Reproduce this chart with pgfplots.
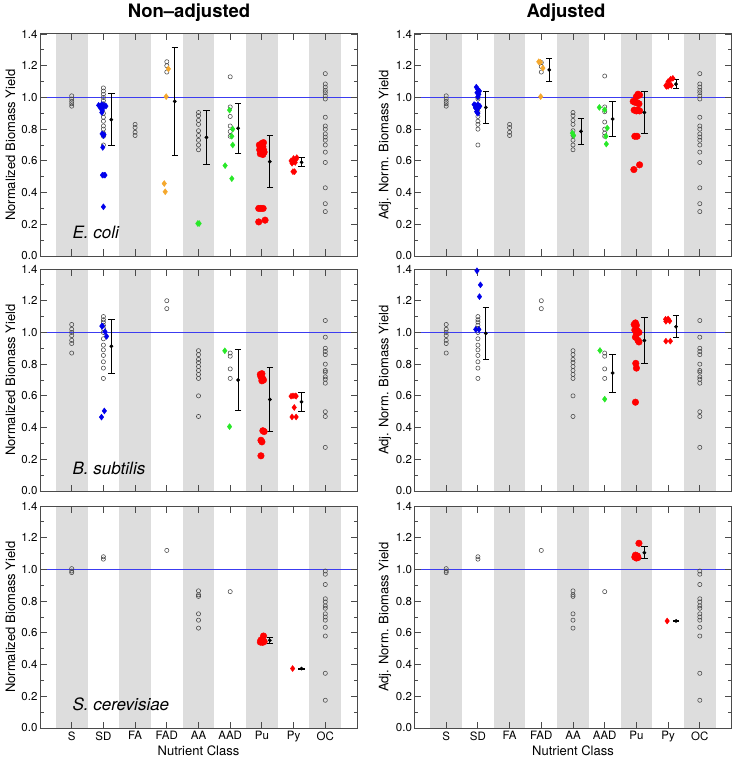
\documentclass[border=0pt]{standalone}
\usepackage{fontspec}
\setmainfont{TeX Gyre Heros}
\usepackage{pgfplots}
\pgfplotsset{compat=1.18}
\definecolor{band}{RGB}{221,221,221}
\definecolor{frame}{RGB}{75,75,75}
\definecolor{cblue}{RGB}{0,0,235}
\definecolor{corange}{RGB}{245,168,45}
\definecolor{cgreen}{RGB}{40,232,40}
\definecolor{cred}{RGB}{255,0,0}
\definecolor{hline}{RGB}{60,60,240}
\definecolor{circ}{RGB}{70,70,70}

\pgfplotsset{
  panel/.style={
    scale only axis, width=317pt, height=222pt,
    xmin=0, xmax=10, ymin=0, ymax=1.4,
    axis on top,
    xtick={1,2,3,4,5,6,7,8,9},
    ytick={0,0.2,0.4,0.6,0.8,1.0,1.2,1.4},
    minor ytick={0.1,0.3,0.5,0.7,0.9,1.1,1.3},
    tick align=inside,
    major tick length=6.5pt, minor tick length=3.5pt,
    every tick/.style={frame, line width=0.9pt},
    axis line style={frame, line width=1pt},
    tick label style={font=\fontsize{11.5}{13}\selectfont},
    label style={font=\fontsize{13}{15}\selectfont},
    /pgf/number format/assume math mode=true,
    yticklabel style={xshift=1pt, /pgf/number format/fixed, /pgf/number format/fixed zerofill, /pgf/number format/precision=1},
    ylabel style={at={(axis description cs:-0.093,0.5)}, anchor=center},
    xlabel style={at={(axis description cs:0.5,0)}, anchor=base, yshift=-27pt},
    xticklabels={},
  },
  bottomrow/.style={xticklabels={S,SD,FA,FAD,AA,AAD,Pu,Py,OC}, xlabel={Nutrient Class}},
  opencirc/.style={only marks, mark=o, mark size=2.1pt, draw=circ, mark options={draw=circ, line width=0.55pt}},
  dia/.style={only marks, mark=diamond*, mark size=3pt, #1, mark options={fill=#1, draw=#1}},
  dot/.style={only marks, mark=*, mark size=3.3pt, #1, mark options={fill=#1, draw=#1}},
  meanbar/.style={only marks, mark=*, mark size=1.7pt, black,
    error bars/.cd, y dir=both, y explicit,
    error bar style={black, line width=0.8pt},
    error mark options={rotate=90, mark size=3.2pt, line width=0.8pt, black}},
}

\newcommand{\bands}{%
  \fill[band] (axis cs:0.5,0) rectangle (axis cs:1.5,1.4);
  \fill[band] (axis cs:2.5,0) rectangle (axis cs:3.5,1.4);
  \fill[band] (axis cs:4.5,0) rectangle (axis cs:5.5,1.4);
  \fill[band] (axis cs:6.5,0) rectangle (axis cs:7.5,1.4);
  \fill[band] (axis cs:8.5,0) rectangle (axis cs:9.5,1.4);
  \fill[hline] (axis cs:0,0.9955) rectangle (axis cs:10,1.0045);
}
\newcommand{\species}[2]{\node[anchor=base west, inner sep=0pt, font=\fontsize{17}{20}\selectfont\itshape] at (axis cs:1.02,#1) {#2};}

\begin{document}
\begin{tikzpicture}
\useasboundingbox (0,0) rectangle (738pt,-762pt);
\node[font=\fontsize{18.5}{21}\selectfont\bfseries] at (189pt,-13pt) {Non\textendash adjusted};
\node[font=\fontsize{18.5}{21}\selectfont\bfseries] at (566pt,-13pt) {Adjusted};

% ===== Row 1 left: E. coli, non-adjusted
\begin{axis}[panel, at={(40pt,-34pt)}, anchor=north west, ylabel={Normalized Biomass Yield}]
\bands
\addplot[opencirc] coordinates {
(1,1.01)(1,0.99)(1,0.975)(1,0.96)(1,0.945)
(2,1.06)(2,1.04)(2,1.02)(2,1.0)(2,0.98)(2,0.96)(2,0.90)(2,0.875)(2,0.85)(2,0.82)(2,0.80)(2,0.775)(2,0.755)(2,0.70)
(3,0.83)(3,0.81)(3,0.78)(3,0.76)
(4,1.225)(4,1.20)(4,1.16)
(5,0.905)(5,0.885)(5,0.855)(5,0.83)(5,0.79)(5,0.76)(5,0.73)(5,0.70)(5,0.67)
(6,1.13)(6,0.94)(6,0.88)(6,0.82)(6,0.785)(6,0.755)
(9,1.15)(9,1.085)(9,1.065)(9,1.045)(9,1.03)(9,1.01)(9,0.99)(9,0.875)(9,0.82)(9,0.80)(9,0.77)(9,0.75)(9,0.73)(9,0.70)(9,0.655)(9,0.59)(9,0.43)(9,0.33)(9,0.28)
};
\addplot[dia=cblue] coordinates {(1.85,0.95)(1.9,0.945)(1.95,0.955)(2.02,0.95)(2.08,0.945)(1.92,0.93)(1.97,0.92)(1.95,0.905)(2.0,0.94)(1.96,0.77)(2.0,0.76)(2.02,0.765)(1.98,0.685)(1.97,0.51)(2.02,0.51)(2.05,0.51)(2.0,0.31)};
\addplot[dia=corange] coordinates {(4.05,1.18)(3.98,1.005)(3.92,0.457)(3.95,0.405)};
\addplot[dia=cgreen] coordinates {(4.98,0.205)(5.02,0.205)(5.98,0.92)(6.08,0.80)(6.05,0.755)(6.08,0.70)(5.84,0.57)(6.05,0.488)};
\addplot[dot=cred] coordinates {(6.92,0.70)(7.0,0.71)(7.05,0.715)(6.95,0.685)(7.03,0.69)(6.93,0.67)(7.0,0.665)(7.05,0.67)(6.95,0.645)(7.03,0.64)(7.07,0.655)(6.9,0.30)(6.97,0.30)(7.04,0.30)(7.1,0.226)(6.9,0.215)};
\addplot[dia=cred] coordinates {(7.92,0.60)(7.98,0.595)(8.03,0.605)(8.08,0.61)(7.95,0.585)(8.05,0.59)(8.1,0.62)(8.0,0.615)(7.98,0.532)(8.03,0.532)};
\addplot[meanbar] coordinates {(2.25,0.86) +- (0,0.163) (4.25,0.975) +- (0,0.34) (5.25,0.748) +- (0,0.171) (6.25,0.805) +- (0,0.158) (7.25,0.595) +- (0,0.164) (8.25,0.591) +- (0,0.028)};
\species{0.11}{E. coli}
\end{axis}

% ===== Row 1 right: E. coli, adjusted
\begin{axis}[panel, at={(414.5pt,-34pt)}, anchor=north west, ylabel={Adj. Norm. Biomass Yield}]
\bands
\addplot[opencirc] coordinates {
(1,1.01)(1,0.99)(1,0.975)(1,0.96)(1,0.945)
(2,1.0)(2,0.99)(2,0.94)(2,0.91)(2,0.88)(2,0.85)(2,0.83)(2,0.80)(2,0.70)
(3,0.83)(3,0.81)(3,0.78)(3,0.76)
(4,1.22)(4,1.195)(4,1.16)
(5,0.905)(5,0.885)(5,0.855)(5,0.83)(5,0.79)(5,0.76)(5,0.73)(5,0.70)(5,0.67)
(6,1.135)(6,0.94)(6,0.91)(6,0.845)(6,0.80)(6,0.775)(6,0.755)
(9,1.15)(9,1.085)(9,1.065)(9,1.045)(9,1.03)(9,1.01)(9,0.99)(9,0.875)(9,0.82)(9,0.80)(9,0.77)(9,0.75)(9,0.73)(9,0.70)(9,0.655)(9,0.59)(9,0.43)(9,0.33)(9,0.28)
};
\addplot[dia=cblue] coordinates {(1.95,1.065)(2.0,1.05)(2.05,1.04)(1.97,1.03)(2.03,1.02)(2.0,1.005)(1.88,0.955)(1.93,0.95)(2.0,0.955)(2.06,0.945)(1.92,0.935)(1.97,0.925)(2.02,0.935)(1.96,0.91)(2.0,0.9)};
\addplot[dia=corange] coordinates {(3.92,1.225)(3.97,1.222)(4.05,1.185)(3.98,1.005)};
\addplot[dia=cgreen] coordinates {(4.98,0.775)(5.02,0.76)(5.83,0.937)(6.0,0.922)(6.08,0.807)(6.04,0.755)(6.05,0.706)};
\addplot[dot=cred] coordinates {(7.05,1.02)(7.1,1.015)(7.0,1.005)(6.9,0.975)(6.95,0.97)(7.03,0.965)(7.08,0.96)(6.93,0.92)(7.0,0.915)(7.05,0.92)(7.1,0.915)(6.95,0.755)(7.02,0.755)(6.92,0.545)(7.1,0.575)};
\addplot[dia=cred] coordinates {(7.93,1.075)(8.0,1.07)(8.05,1.08)(8.1,1.075)(8.0,1.10)(8.08,1.115)(8.15,1.12)(7.95,1.07)};
\addplot[meanbar] coordinates {(2.25,0.937) +- (0,0.1) (4.25,1.174) +- (0,0.073) (5.25,0.786) +- (0,0.084) (6.25,0.864) +- (0,0.11) (7.25,0.905) +- (0,0.133) (8.25,1.084) +- (0,0.027)};
\end{axis}

% ===== Row 2 left: B. subtilis, non-adjusted
\begin{axis}[panel, at={(40pt,-269pt)}, anchor=north west, ylabel={Normalized Biomass Yield}]
\bands
\addplot[opencirc] coordinates {
(1,1.05)(1,1.02)(1,1.0)(1,0.98)(1,0.95)(1,0.93)(1,0.87)
(2,1.10)(2,1.08)(2,1.065)(2,1.045)(2,1.025)(2,1.0)(2,0.96)(2,0.92)(2,0.89)(2,0.855)(2,0.815)(2,0.775)(2,0.71)
(4,1.20)(4,1.15)
(5,0.885)(5,0.86)(5,0.83)(5,0.81)(5,0.785)(5,0.76)(5,0.735)(5,0.71)(5,0.60)(5,0.47)
(6,0.87)(6,0.85)(6,0.77)(6,0.71)
(9,1.075)(9,0.97)(9,0.90)(9,0.88)(9,0.86)(9,0.80)(9,0.76)(9,0.75)(9,0.72)(9,0.705)(9,0.68)(9,0.50)(9,0.47)(9,0.275)
};
\addplot[dia=cblue] coordinates {(1.97,1.04)(1.95,1.04)(2.05,1.005)(2.1,0.975)(2.03,0.505)(1.94,0.466)};
\addplot[dia=cgreen] coordinates {(5.83,0.884)(5.98,0.406)};
\addplot[dot=cred] coordinates {(6.95,0.735)(7.0,0.74)(6.97,0.72)(7.02,0.71)(7.05,0.70)(7.0,0.695)(7.03,0.38)(7.07,0.375)(6.97,0.32)(7.0,0.31)(6.97,0.222)};
\addplot[dia=cred] coordinates {(7.92,0.598)(7.98,0.6)(8.05,0.6)(8.08,0.598)(8.02,0.527)(7.95,0.467)(8.08,0.467)};
\addplot[meanbar] coordinates {(2.25,0.913) +- (0,0.172) (6.25,0.70) +- (0,0.19) (7.25,0.577) +- (0,0.2) (8.25,0.562) +- (0,0.058)};
\species{0.106}{B. subtilis}
\end{axis}

% ===== Row 2 right: B. subtilis, adjusted
\begin{axis}[panel, at={(414.5pt,-269pt)}, anchor=north west, ylabel={Adj. Norm. Biomass Yield}]
\bands
\addplot[opencirc] coordinates {
(1,1.05)(1,1.02)(1,1.0)(1,0.98)(1,0.95)(1,0.93)(1,0.87)
(2,1.10)(2,1.08)(2,1.065)(2,1.045)(2,1.025)(2,1.0)(2,0.96)(2,0.92)(2,0.89)(2,0.855)(2,0.815)(2,0.775)(2,0.71)
(4,1.20)(4,1.15)
(5,0.885)(5,0.86)(5,0.83)(5,0.81)(5,0.785)(5,0.76)(5,0.735)(5,0.71)(5,0.60)(5,0.47)
(6,0.87)(6,0.85)(6,0.77)(6,0.71)
(9,1.075)(9,0.97)(9,0.90)(9,0.88)(9,0.86)(9,0.80)(9,0.76)(9,0.75)(9,0.72)(9,0.705)(9,0.68)(9,0.50)(9,0.47)(9,0.275)
};
\addplot[dia=cblue] coordinates {(1.97,1.389)(2.08,1.30)(2.05,1.226)(1.93,1.019)(2.03,1.019)};
\addplot[dia=cgreen] coordinates {(5.85,0.886)(6.0,0.579)};
\addplot[dot=cred] coordinates {(6.93,1.05)(6.97,1.06)(7.0,1.045)(6.95,1.015)(7.03,1.01)(7.08,1.0)(7.0,0.99)(6.97,0.97)(7.05,0.95)(7.08,0.94)(6.98,0.805)(7.0,0.775)(6.97,0.56)};
\addplot[dia=cred] coordinates {(7.92,1.083)(8.0,1.085)(8.05,1.072)(7.93,1.07)(7.93,0.945)(8.07,0.945)};
\addplot[meanbar] coordinates {(2.25,0.994) +- (0,0.166) (6.25,0.744) +- (0,0.12) (7.25,0.949) +- (0,0.145) (8.25,1.036) +- (0,0.069)};
\end{axis}

% ===== Row 3 left: S. cerevisiae, non-adjusted
\begin{axis}[panel, bottomrow, at={(40pt,-506pt)}, anchor=north west, ylabel={Normalized Biomass Yield}]
\bands
\addplot[opencirc] coordinates {
(1,1.005)(1,0.99)(1,0.98)
(2,1.08)(2,1.065)
(4,1.12)
(5,0.865)(5,0.84)(5,0.83)(5,0.72)(5,0.68)(5,0.63)
(6,0.86)
(9,0.99)(9,0.97)(9,0.905)(9,0.815)(9,0.795)(9,0.77)(9,0.755)(9,0.72)(9,0.70)(9,0.68)(9,0.635)(9,0.58)(9,0.345)(9,0.175)
};
\addplot[dot=cred] coordinates {(7.05,0.58)(6.97,0.555)(7.03,0.55)(6.95,0.542)(7.02,0.54)(7.07,0.545)};
\addplot[dia=cred] coordinates {(7.97,0.375)};
\addplot[meanbar] coordinates {(7.25,0.553) +- (0,0.018) (8.25,0.375) +- (0,0.003)};
\species{0.111}{S. cerevisiae}
\end{axis}

% ===== Row 3 right: S. cerevisiae, adjusted
\begin{axis}[panel, bottomrow, at={(414.5pt,-506pt)}, anchor=north west, ylabel={Adj. Norm. Biomass Yield}]
\bands
\addplot[opencirc] coordinates {
(1,1.005)(1,0.99)(1,0.98)
(2,1.08)(2,1.065)
(4,1.12)
(5,0.865)(5,0.84)(5,0.83)(5,0.72)(5,0.68)(5,0.63)
(6,0.86)
(9,0.99)(9,0.97)(9,0.905)(9,0.815)(9,0.795)(9,0.77)(9,0.755)(9,0.72)(9,0.70)(9,0.68)(9,0.635)(9,0.58)(9,0.345)(9,0.175)
};
\addplot[dot=cred] coordinates {(7.08,1.165)(6.97,1.09)(7.03,1.085)(6.95,1.078)(7.05,1.075)(7.0,1.072)};
\addplot[dia=cred] coordinates {(7.97,0.675)};
\addplot[meanbar] coordinates {(7.25,1.105) +- (0,0.038) (8.25,0.675) +- (0,0.003)};
\end{axis}
\end{tikzpicture}
\end{document}
